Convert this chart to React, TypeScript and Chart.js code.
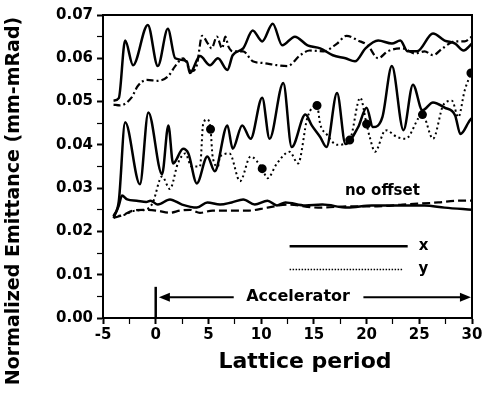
import React, { useEffect, useRef } from "react";
import { Chart, registerables } from "chart.js";
Chart.register(...registerables);

const FONT = "'DejaVu Sans', 'Liberation Sans', sans-serif";

// Offset case A (upper pair): x solid, y dash-dot
const aXt = [-4.0,-3.5,-2.9,-2.15,-0.75,0.2,1.15,1.85,2.95,3.25,4.2,5.15,5.9,6.8,7.3,8.3,9.2,10.1,11.1,12.0,13.2,14.4,15.6,16.8,18.0,18.9,19.9,21.1,22.4,23.2,23.9,24.8,26.3,27.4,28.4,29.2,30];
const aXv = [0.0502,0.0508,0.0641,0.0584,0.0677,0.0582,0.0668,0.060,0.0593,0.0566,0.0605,0.0584,0.060,0.0573,0.0607,0.0623,0.0664,0.0639,0.068,0.063,0.065,0.063,0.0623,0.0607,0.060,0.0593,0.0623,0.0641,0.0634,0.0641,0.0616,0.0616,0.0657,0.0641,0.0634,0.0618,0.0634];
const aYt = [-4.0,-3.4,-2.3,-1.7,-0.85,0.2,1.2,1.85,2.6,3.4,3.9,4.4,4.95,5.3,5.8,6.3,6.6,6.9,7.3,8.3,9.2,10.2,11.5,12.5,13.7,14.6,15.9,17.2,18.1,19.2,20.1,21.1,22.0,23.4,24.6,25.5,26.3,27.2,28.4,29.3,30];
const aYv = [0.0493,0.0491,0.0509,0.0536,0.055,0.0548,0.0559,0.0582,0.060,0.057,0.0584,0.0652,0.0634,0.0623,0.065,0.0623,0.065,0.0627,0.0616,0.0616,0.0593,0.0589,0.0584,0.0582,0.0607,0.0618,0.0616,0.0634,0.0652,0.0641,0.063,0.060,0.0616,0.0623,0.0611,0.0616,0.0607,0.0623,0.0639,0.0639,0.065];

// Offset case B (middle pair): x solid, y dotted with dots
const bXt = [-4.0,-3.5,-2.9,-1.5,-0.7,0.6,1.2,1.65,2.6,3.1,3.9,4.9,5.6,6.8,7.3,8.2,9.0,10.1,10.8,12.1,12.9,14.2,14.8,15.6,16.2,17.2,18.0,19.2,20.0,20.6,21.5,22.4,23.5,24.4,25.3,26.3,27.4,28.4,28.9,29.8,30];
const bXv = [0.0235,0.027,0.0452,0.0309,0.0475,0.0332,0.0445,0.0357,0.0391,0.038,0.0311,0.0373,0.0339,0.0445,0.0391,0.0445,0.0414,0.0509,0.0414,0.0543,0.0395,0.047,0.0445,0.0418,0.0395,0.052,0.0402,0.0441,0.0486,0.0441,0.0464,0.0582,0.0434,0.0539,0.048,0.0498,0.0486,0.0468,0.0425,0.0457,0.0462];
const bYt = [-4.0,-3.0,-2.0,-1.0,-0.3,0.6,1.35,2.1,2.8,3.4,4.2,4.5,4.9,5.2,5.4,5.9,6.1,7.0,8.0,9.0,10.1,10.6,11.5,12.7,13.5,14.4,15.3,15.6,16.2,17.2,18.4,19.4,20.0,20.3,20.8,21.8,22.9,23.7,25.3,26.3,27.3,28.1,28.7,29.3,29.9];
const bYv = [0.0235,0.0238,0.0248,0.025,0.0265,0.0327,0.0298,0.0357,0.038,0.035,0.035,0.0448,0.0459,0.0436,0.0373,0.035,0.0373,0.038,0.0316,0.0373,0.0345,0.0323,0.0357,0.0384,0.0357,0.0464,0.0491,0.0448,0.0425,0.040,0.0411,0.0509,0.0448,0.0418,0.0384,0.0434,0.0418,0.0414,0.047,0.0414,0.0493,0.0502,0.0464,0.0525,0.0566];
const bYDots = [5.2,10.1,15.3,18.4,20.0,25.3,29.9];

// No offset: x solid, y dashed
const cXt = [-4.0,-3.5,-3.2,-2.7,-1.8,-0.9,-0.5,0.2,1.35,2.5,3.9,4.9,6.1,7.2,8.3,9.4,10.6,11.5,12.3,14.2,15.8,18.2,20.5,23.4,25.5,27.4,30];
const cXv = [0.0231,0.026,0.0283,0.0274,0.0271,0.0268,0.0271,0.0262,0.0274,0.0262,0.0255,0.0267,0.0262,0.0267,0.0274,0.0262,0.0271,0.026,0.0267,0.026,0.0262,0.0255,0.026,0.026,0.026,0.0255,0.025];
const cYt = [-4.0,-3.1,-2.15,-1.2,0.1,1.35,2.3,3.25,4.2,5.4,6.8,8.7,10.6,12.5,15.4,18.5,21,23.4,26.8,28.7,30];
const cYv = [0.0231,0.0238,0.0248,0.025,0.0248,0.0243,0.0248,0.025,0.0243,0.0248,0.0248,0.0248,0.0255,0.0262,0.0255,0.0258,0.0258,0.0262,0.0267,0.0271,0.0271];

const X_MIN = -5, X_MAX = 30, X_STEP = 2.5;
const Y_MIN = 0, Y_MAX = 0.07, Y_STEP = 0.005;

const pts = (t: number[], v: number[]) => t.map((x, i) => ({ x, y: v[i] }));

const decoPlugin = {
  id: "deco",
  afterDraw(chart: any) {
    const { ctx, chartArea: a, scales } = chart;
    const xs = scales.x, ys = scales.y;
    const px = (v: number) => xs.getPixelForValue(v);
    const py = (v: number) => ys.getPixelForValue(v);
    ctx.save();
    ctx.strokeStyle = "#000";
    ctx.fillStyle = "#000";
    ctx.lineWidth = 2;
    ctx.setLineDash([]);
    ctx.strokeRect(a.left, a.top, a.right - a.left, a.bottom - a.top);

    // legend
    ctx.lineWidth = 2.5;
    ctx.beginPath();
    ctx.moveTo(px(12.7), py(0.0166));
    ctx.lineTo(px(23.9), py(0.0166));
    ctx.stroke();
    ctx.lineWidth = 1.5;
    ctx.setLineDash([1.5, 1.5]);
    ctx.beginPath();
    ctx.moveTo(px(12.7), py(0.0112));
    ctx.lineTo(px(23.5), py(0.0112));
    ctx.stroke();
    ctx.setLineDash([]);
    ctx.font = `bold 15px ${FONT}`;
    ctx.textAlign = "center";
    ctx.textBaseline = "middle";
    ctx.fillText("x", px(25.4), py(0.0166));
    ctx.fillText("y", px(25.4), py(0.0112));

    // no offset label
    ctx.fillText("no offset", px(21.5), py(0.0292));

    // Accelerator annotation
    ctx.lineWidth = 2.5;
    ctx.beginPath();
    ctx.moveTo(px(0), py(0));
    ctx.lineTo(px(0), py(0.0072));
    ctx.stroke();
    const ay = py(0.0048);
    ctx.lineWidth = 2;
    ctx.beginPath();
    ctx.moveTo(px(0.9), ay);
    ctx.lineTo(px(7.4), ay);
    ctx.moveTo(px(19.7), ay);
    ctx.lineTo(px(29.1), ay);
    ctx.stroke();
    const head = (tipX: number, dir: number) => {
      ctx.beginPath();
      ctx.moveTo(tipX, ay);
      ctx.lineTo(tipX + dir * 11, ay - 4.5);
      ctx.lineTo(tipX + dir * 11, ay + 4.5);
      ctx.closePath();
      ctx.fill();
    };
    head(px(0.3), 1);
    head(px(29.9), -1);
    ctx.font = `bold 16px ${FONT}`;
    ctx.fillText("Accelerator", px(13.5), ay);

    // axis titles
    ctx.font = `bold 22px ${FONT}`;
    ctx.textBaseline = "middle";
    ctx.fillText("Lattice period", 305, 362);
    ctx.translate(14, 201);
    ctx.rotate(-Math.PI / 2);
    ctx.font = `bold 19px ${FONT}`;
    ctx.fillText("Normalized Emittance (mm-mRad)", 0, 0);
    ctx.restore();
  },
};

export default function App() {
  const ref = useRef<HTMLCanvasElement>(null);
  useEffect(() => {
    if (!ref.current) return;
    const solid = { borderColor: "#000", borderWidth: 2.5, pointRadius: 0, cubicInterpolationMode: "monotone", fill: false };
    const chart = new Chart(ref.current, {
      type: "line",
      data: {
        datasets: [
          { ...solid, label: "A x", data: pts(aXt, aXv) },
          { ...solid, label: "A y", data: pts(aYt, aYv), borderWidth: 2.2, borderDash: [7, 3, 2, 3] },
          { ...solid, label: "B x", data: pts(bXt, bXv) },
          {
            ...solid,
            label: "B y",
            data: pts(bYt, bYv),
            borderWidth: 2,
            borderDash: [2, 3],
            pointRadius: (c: any) => (bYDots.includes(bYt[c.dataIndex]) ? 3.5 : 0),
            pointBackgroundColor: "#000",
            pointBorderColor: "#000",
          },
          { ...solid, label: "C x", data: pts(cXt, cXv) },
          { ...solid, label: "C y", data: pts(cYt, cYv), borderWidth: 2.2, borderDash: [8, 4] },
        ],
      },
      options: {
        animation: false,
        responsive: false,
        devicePixelRatio: 1,
        layout: { padding: { top: 15, right: 14, left: 0, bottom: 0 } },
        plugins: { legend: { display: false }, tooltip: { enabled: false } },
        scales: {
          x: {
            type: "linear",
            min: X_MIN,
            max: X_MAX,
            border: { display: true, color: "#000", width: 2 },
            grid: {
              drawOnChartArea: false,
              drawTicks: true,
              tickLength: 6,
              color: "#000",
              tickColor: "#000",
              tickWidth: (c: any) => (Math.abs(c.tick.value % 5) < 1e-6 ? 2 : 1.2),
            },
            ticks: {
              stepSize: X_STEP,
              color: "#000",
              padding: 2,
              autoSkip: false,
              maxRotation: 0,
              font: { family: FONT, size: 15, weight: "bold" },
              callback: (v: any) => (Math.abs(Number(v) % 5) < 1e-6 ? String(v) : ""),
            },
            afterFit: (s: any) => { s.height = 84; },
          },
          y: {
            min: Y_MIN,
            max: Y_MAX,
            border: { display: true, color: "#000", width: 2 },
            grid: {
              drawOnChartArea: false,
              drawTicks: true,
              tickLength: 6,
              color: "#000",
              tickColor: "#000",
              tickWidth: (c: any) => {
                const v = c.tick.value * 100;
                return Math.abs(v - Math.round(v)) < 1e-6 ? 2 : 1.2;
              },
            },
            ticks: {
              stepSize: Y_STEP,
              color: "#000",
              padding: 4,
              autoSkip: false,
              font: { family: FONT, size: 15, weight: "bold" },
              callback: (v: any) => {
                const n = Number(v) * 100;
                return Math.abs(n - Math.round(n)) < 1e-6 ? Number(v).toFixed(2) : "";
              },
            },
            afterFit: (s: any) => { s.width = 103; },
          },
        },
      },
      plugins: [decoPlugin],
    } as any);
    return () => chart.destroy();
  }, []);
  return (
    <div style={{ position: "fixed", left: 0, top: 0, width: 486, height: 402, background: "#fff" }}>
      <canvas ref={ref} width={486} height={402} style={{ display: "block" }} />
    </div>
  );
}
